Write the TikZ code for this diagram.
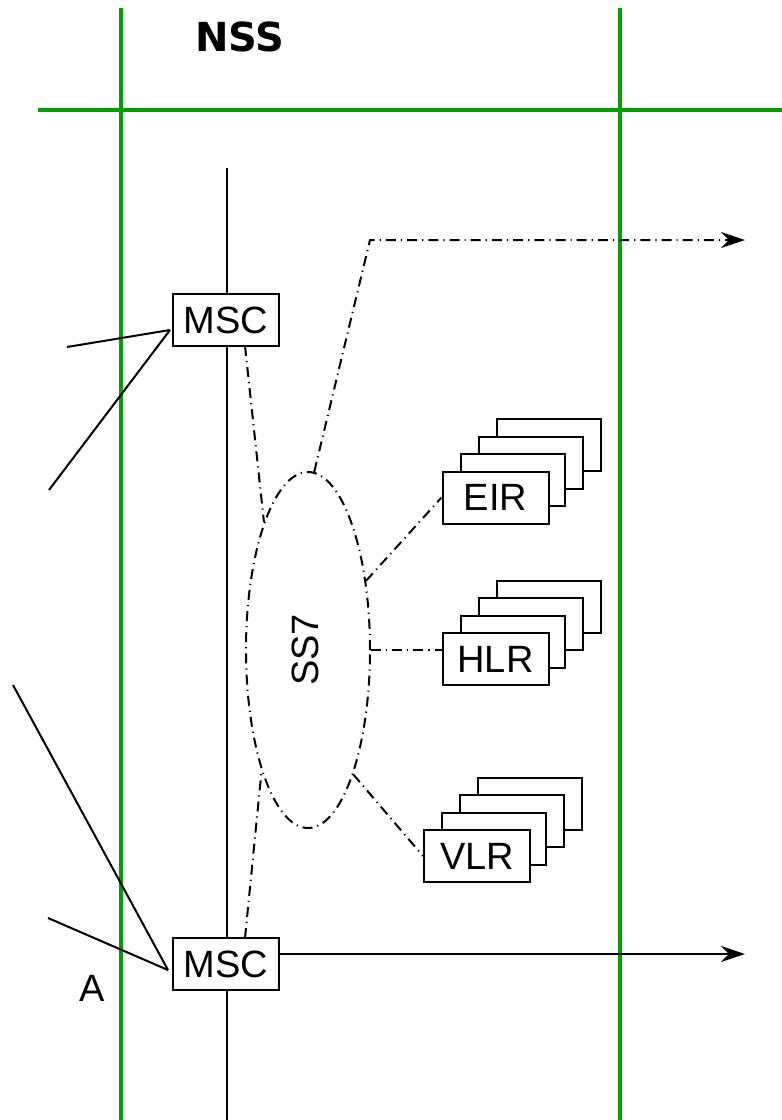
\documentclass[tikz,border=0pt]{standalone}
\usepackage{fontspec}
\setmainfont{Liberation Sans}
\newfontfamily\titlefont{DejaVu Sans}
\usetikzlibrary{shapes.geometric,arrows.meta,positioning,calc}

\definecolor{zonegreen}{RGB}{0,160,0}

\begin{document}
\begin{tikzpicture}[x=0.5pt,y=-0.5pt,
    every node/.style={font=\fontsize{19}{22}\selectfont},
    unit/.style={rectangle,draw,line width=1pt,fill=white,minimum width=53pt,minimum height=26pt,inner sep=0pt},
    sheet/.style={draw,line width=1pt,fill=white},
    zone/.style={zonegreen,line width=1.8pt},
    link/.style={line width=1pt},
    signal/.style={line width=1pt,dash pattern=on 5pt off 2.5pt on 0.6pt off 2.5pt},
    tip/.style={-{Stealth[length=12pt,width=8pt,inset=4pt]}}]
    \useasboundingbox (0,0) rectangle (782,1120);

    % zone borders
    \draw[zone] (121,8) -- (121,1120);
    \draw[zone] (620,8) -- (620,1120);
    \draw[zone] (38,110) -- (782,110);
    \node[font=\titlefont\bfseries\fontsize{20}{24}\selectfont] (nss) at (240,37) {NSS};

    % backbone
    \draw[link] (227,168) -- (227,1120);

    % switching centres
    \node[unit] (msctop) at (226,320) {MSC};
    \node[unit] (mscbot) at (226,964) {MSC};
    \coordinate (ta) at (170,330);
    \coordinate (ba) at (168,970);
    \draw[link] (ta) -- (67,347);
    \draw[link] (ta) -- (49,490);
    \draw[link] (ba) -- (48,918);
    \draw[link] (ba) -- (13,685);
    \node (alabel) at (92,988) {A};
    \coordinate (outbot) at (745,954);
    \draw[link,tip] (mscbot.east |- outbot) -- (outbot);

    % signalling network
    \node[ellipse,draw,signal,minimum width=62pt,minimum height=178pt] (ss7) at (308,650) {};
    \node[rotate=90] (ss7text) at (305,650) {SS7};

    % databases (stacked)
    \foreach \name/\cx/\cy/\txt in {eir/495.5/497.5/EIR, hlr/495.5/659/HLR, vlr/477/856/VLR} {
        \foreach \k in {3,2,1} {
            \draw[sheet] ({\cx-53+18*\k},{\cy-26-17.5*\k}) rectangle ++(104,52);
        }
        \node[unit] (\name) at (\cx,\cy) {\txt};
    }

    % signalling links
    \coordinate (bend) at (370,240);
    \coordinate (outtop) at (745,240);
    \draw[signal] (245,346) -- (ss7.109);
    \draw[signal] (245,938) -- (ss7.-111);
    \draw[signal,tip] (ss7.88) -- (bend) -- (outtop);
    \draw[signal] (ss7.50) -- (eir.west);
    \draw[signal] (ss7.0) -- (ss7.0 -| hlr.west);
    \draw[signal] (ss7.-70) -- (vlr.west);
\end{tikzpicture}
\end{document}
